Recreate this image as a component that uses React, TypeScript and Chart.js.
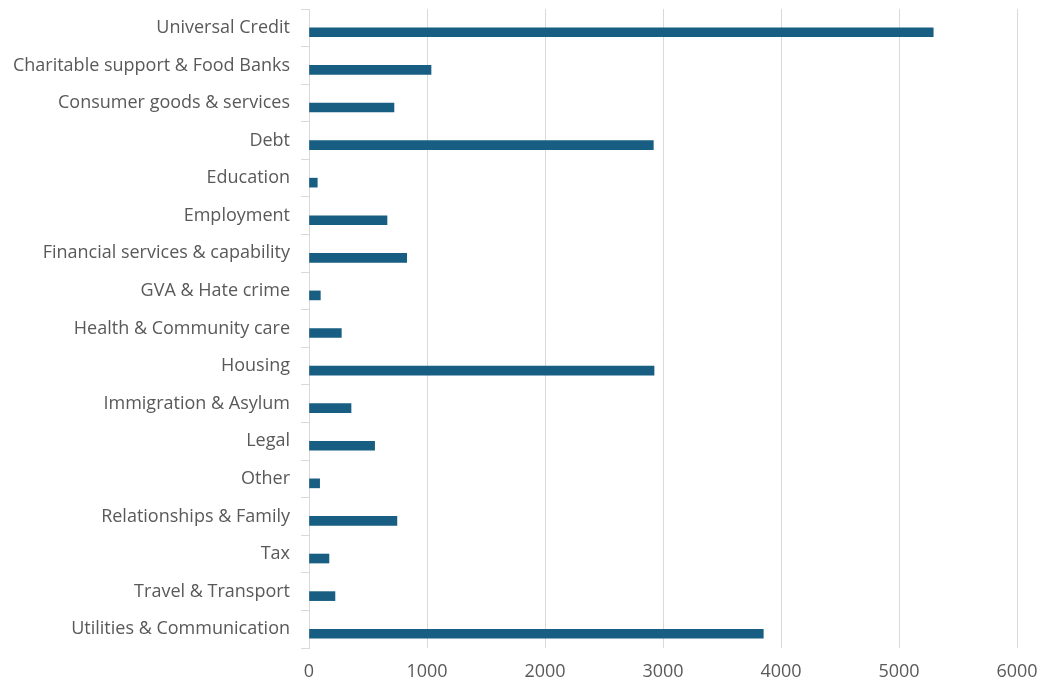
import React, { useEffect, useRef } from "react";
import { Chart, registerables } from "chart.js";

Chart.register(...registerables);

const categories = [
  "Universal Credit",
  "Charitable support & Food Banks",
  "Consumer goods & services",
  "Debt",
  "Education",
  "Employment",
  "Financial services & capability",
  "GVA & Hate crime",
  "Health & Community care",
  "Housing",
  "Immigration & Asylum",
  "Legal",
  "Other",
  "Relationships & Family",
  "Tax",
  "Travel & Transport",
  "Utilities & Communication",
];

const values = [5290, 1034, 720, 2918, 70, 661, 828, 96, 274, 2924, 356, 556, 90, 745, 169, 220, 3850];

const emptySeries: (number | null)[] = categories.map(() => null);

const xTicks = [0, 1000, 2000, 3000, 4000, 5000, 6000];

export default function App() {
  const ref = useRef<HTMLCanvasElement | null>(null);

  useEffect(() => {
    if (!ref.current) return;
    const font = { family: "'Open Sans', sans-serif", size: 18 };
    const chart = new Chart(ref.current, {
      type: "bar",
      data: {
        labels: categories,
        datasets: [
          { label: "", data: emptySeries, backgroundColor: "#175E82", barThickness: 9 },
          { label: "Count", data: values, backgroundColor: "#175E82", barThickness: 9 },
        ],
      },
      options: {
        indexAxis: "y",
        animation: false,
        responsive: false,
        maintainAspectRatio: false,
        layout: { padding: { top: 9, right: 24, left: 0, bottom: 0 } },
        plugins: { legend: { display: false }, tooltip: { enabled: false } },
        scales: {
          y: {
            ticks: { color: "#595959", font, padding: 11, autoSkip: false },
            grid: { drawOnChartArea: false, drawTicks: true, tickLength: 8, color: "#d9d9d9", lineWidth: 1 },
            border: { display: true, color: "#d9d9d9", width: 1 },
            afterFit: (s: any) => {
              s.width = 309;
              s.paddingTop = 0;
              s.paddingBottom = 0;
            },
          },
          x: {
            min: 0,
            max: 6000,
            afterBuildTicks: (s: any) => { s.ticks = xTicks.map((v) => ({ value: v })); },
            ticks: { color: "#595959", font, padding: 13, callback: (v: any) => String(v) },
            grid: { color: "#d9d9d9", lineWidth: 1, drawTicks: false },
            border: { display: false },
            afterFit: (s: any) => {
              s.height = 36;
              s.paddingLeft = 0;
              s.paddingRight = 0;
            },
          },
        },
      },
    });
    return () => chart.destroy();
  }, []);

  return (
    <div style={{ position: "fixed", left: 0, top: 0, width: 1041, height: 684, background: "#fff" }}>
      <canvas ref={ref} width={1041} height={684} style={{ width: 1041, height: 684 }} />
    </div>
  );
}
